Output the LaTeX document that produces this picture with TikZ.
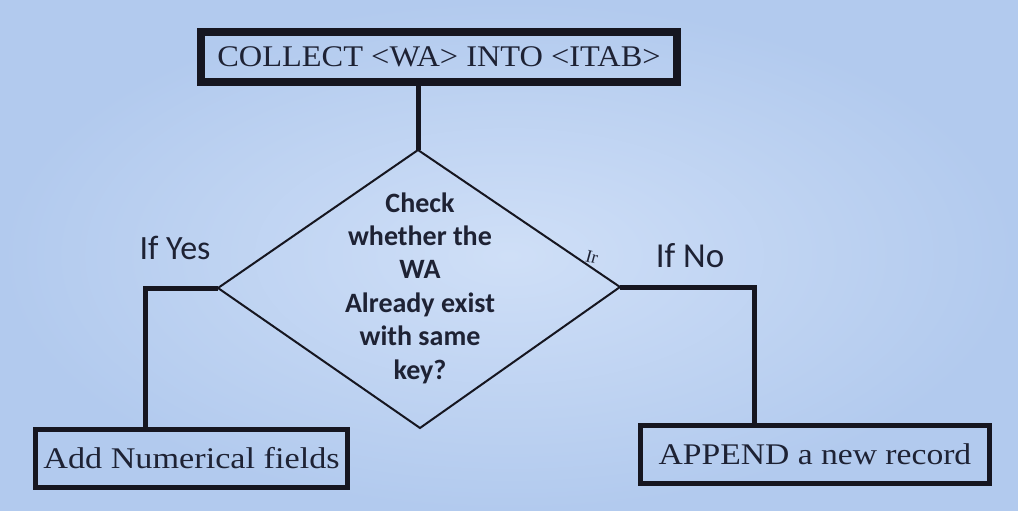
\documentclass[tikz,border=0pt]{standalone}
\usepackage{fontspec}
\setmainfont{Liberation Serif}
\newfontfamily\calib{Carlito}
\usetikzlibrary{calc}
\definecolor{bgin}{RGB}{207,223,247}
\definecolor{bgout}{RGB}{178,202,238}
\definecolor{ink}{RGB}{30,34,52}
\definecolor{lin}{RGB}{22,22,32}
\tikzset{
  boxstyle/.style={draw=lin, rectangle, inner sep=0pt, text=ink, font=\fontsize{30}{34}\selectfont},
  lbl/.style={text=ink, font=\calib\fontsize{34}{38}\selectfont, inner sep=0pt},
  thickconn/.style={draw=lin, line width=5pt},
}
\begin{document}
\begin{tikzpicture}[x=1pt,y=-1pt]
  \shade[inner color=bgin, outer color=bgout] (0,0) rectangle (1018,511);
  \useasboundingbox (0,0) rectangle (1018,511);

  % top box
  \node[boxstyle, line width=8pt, minimum width=476pt, minimum height=50pt] (top) at (439,57) {\scalebox{1.08}[1]{COLLECT <WA> INTO <ITAB>}};

  % diamond corners
  \coordinate (dT) at (418,150);
  \coordinate (dL) at (218,288);
  \coordinate (dR) at (620,287);
  \coordinate (dB) at (420,428);
  \draw[draw=lin, line width=2pt, line join=miter] (dT) -- (dR) -- (dB) -- (dL) -- cycle;
  \node[text=ink, align=center, inner sep=0pt, font=\calib\bfseries\fontsize{28}{33.4}\selectfont] (q) at (420,288)
    {Check\\whether the\\WA\\Already exist\\with same\\key?};

  % boxes below
  \node[boxstyle, line width=5pt, minimum width=312pt, minimum height=58pt] (yes) at (191.5,458.5) {\scalebox{1.14}[1]{Add Numerical fields}};
  \node[boxstyle, line width=5pt, minimum width=349pt, minimum height=58pt] (no) at (815,454.5) {\scalebox{1.12}[1]{APPEND a new record}};

  % connectors
  \draw[thickconn] (dT |- top.south) -- (dT);
  \coordinate (yc) at (145,288);
  \coordinate (nc) at (754,287);
  \draw[thickconn, line join=miter] (dL) -- (yc) -- (yc |- yes.north);
  \draw[thickconn, line join=miter] (dR) -- (nc) -- (nc |- no.north);

  % labels
  \node[lbl] (ly) at (175,248) {If Yes};
  \node[lbl, font=\calib\fontsize{35}{38}\selectfont] (ln) at (690,256) {If No};
  \node[text=ink, inner sep=0pt, font=\fontsize{18}{18}\selectfont, rotate=-15] (ir) at (592,257) {Ir};
\end{tikzpicture}
\end{document}
